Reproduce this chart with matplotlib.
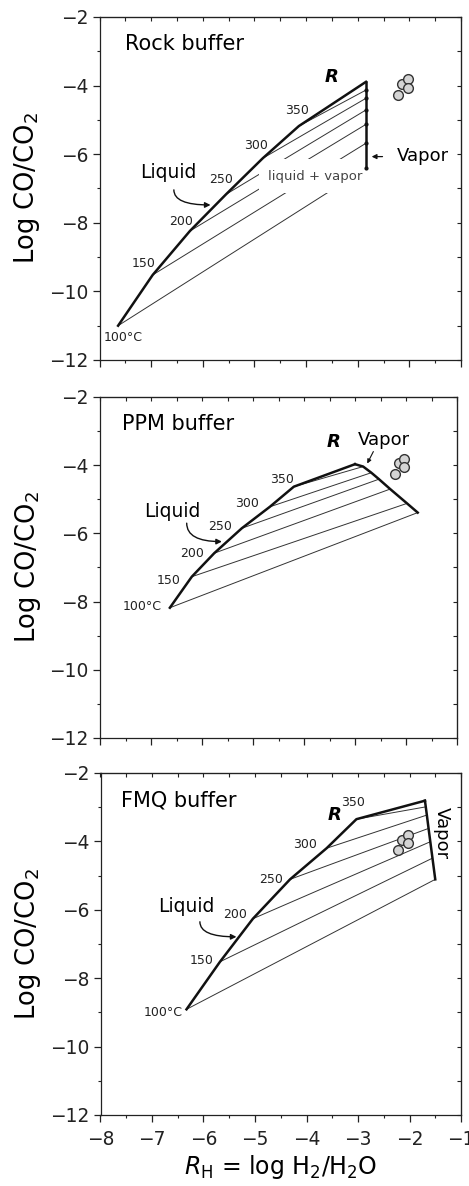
import matplotlib
matplotlib.use('Agg')
import matplotlib.pyplot as plt
from matplotlib.ticker import MultipleLocator
from matplotlib.patches import Rectangle

# temperatures (deg C) of the liquid points
temps = [100, 150, 200, 250, 300, 350]

# Rock buffer
rock_liq_x = [-7.64, -6.97, -6.25, -5.55, -4.84, -4.14]
rock_liq_y = [-11.0, -9.52, -8.24, -7.17, -6.12, -5.18]
rock_R = (-2.84, -3.89)
rock_vap_x = [-2.84, -2.84, -2.84, -2.84, -2.84, -2.84]
rock_vap_y = [-6.41, -5.68, -5.13, -4.71, -4.37, -4.13]

# PPM buffer
ppm_liq_x = [-6.63, -6.20, -5.76, -5.22, -4.67, -4.20]
ppm_liq_y = [-8.18, -7.27, -6.58, -5.85, -5.22, -4.63]
ppm_R = (-3.00, -3.97)
ppm_vap_x = [-1.77, -1.98, -2.31, -2.53, -2.68, -2.84]
ppm_vap_y = [-5.39, -5.12, -4.70, -4.41, -4.22, -4.04]

# FMQ buffer
fmq_liq_x = [-6.33, -5.68, -5.04, -4.32, -3.61, -3.03]
fmq_liq_y = [-8.91, -7.52, -6.26, -5.11, -4.20, -3.35]
fmq_R = (-1.70, -2.81)
fmq_vap_x = [-1.50, -1.554, -1.596, -1.63, -1.663, -1.684]
fmq_vap_y = [-5.11, -4.49, -4.01, -3.62, -3.23, -2.99]

# measured samples (same in every panel)
obs_x = [-2.22, -2.14, -2.03, -2.03]
obs_y = [-4.26, -3.95, -3.82, -4.06]

TICK_FS = 13.4
SMALL_FS = 9


def setup_axes(ax, xlabels=False):
  ax.set_xlim(-8, -1)
  ax.set_ylim(-12, -2)
  ax.xaxis.set_major_locator(MultipleLocator(1))
  ax.xaxis.set_minor_locator(MultipleLocator(0.5))
  ax.yaxis.set_major_locator(MultipleLocator(2))
  ax.yaxis.set_minor_locator(MultipleLocator(1))
  ax.tick_params(which='major', direction='out', length=5, width=0.9,
                 labelsize=TICK_FS, pad=3, colors='#222')
  ax.tick_params(which='minor', direction='out', length=2.5, width=0.8,
                 colors='#222')
  ax.tick_params(axis='x', pad=6, labelbottom=xlabels)
  for s in ax.spines.values():
    s.set_linewidth(0.9)
    s.set_color('#222')
  # inward ticks on top and right
  top = ax.secondary_xaxis('top')
  top.xaxis.set_major_locator(MultipleLocator(0.5))
  top.tick_params(direction='in', length=3, width=0.8, labeltop=False,
                  colors='#222')
  right = ax.secondary_yaxis('right')
  right.yaxis.set_major_locator(MultipleLocator(1))
  right.tick_params(direction='in', length=3, width=0.8, labelright=False,
                    colors='#222')
  ax.set_ylabel('Log CO/CO$_2$', fontsize=18.5, labelpad=5)


def draw_panel(ax, liq_x, liq_y, R, vap_x, vap_y):
  # tie lines
  for lx, ly, vx, vy in zip(liq_x, liq_y, vap_x, vap_y):
    ax.plot([lx, vx], [ly, vy], color='#333', lw=0.7, zorder=1.5)
  # liquid boundary up to R
  ax.plot(list(liq_x) + [R[0]], list(liq_y) + [R[1]], color='#111', lw=1.8,
          zorder=3)
  # vapor boundary from R down
  ax.plot([R[0]] + list(vap_x[::-1]), [R[1]] + list(vap_y[::-1]),
          color='#111', lw=1.8, zorder=3)
  ax.plot(obs_x, obs_y, 'o', ms=7, mfc='#d4d4d4', mec='#333', mew=1,
          zorder=4)


def temp_labels(ax, pos):
  # one position per temperature; None skips the label
  for t, p in zip(temps, pos):
    if p is None:
      continue
    lab = '100°C' if t == 100 else str(t)
    ax.text(p[0], p[1], lab, fontsize=SMALL_FS, ha='center', va='center',
            color='#222', zorder=5)


def liquid_arrow(ax, txt, start, end):
  ax.text(txt[0], txt[1], 'Liquid', fontsize=13.5, ha='center',
          va='center', zorder=5)
  ax.annotate('', xy=end, xytext=start,
              arrowprops=dict(arrowstyle='-|>', lw=1, color='#111',
                              connectionstyle='angle3,angleA=90,angleB=0',
                              shrinkA=0, shrinkB=0, mutation_scale=8))


fig = plt.figure(figsize=(4.69, 11.86), dpi=100)
ax1 = fig.add_axes([99.5 / 469, 1 - 360 / 1186, 361.5 / 469, 343 / 1186])
ax2 = fig.add_axes([100 / 469, 1 - 738 / 1186, 357 / 469, 341 / 1186])
ax3 = fig.add_axes([100.5 / 469, 1 - 1115 / 1186, 360.5 / 469, 342 / 1186])

# ---- Rock buffer
setup_axes(ax1)
draw_panel(ax1, rock_liq_x, rock_liq_y, rock_R, rock_vap_x, rock_vap_y)
ax1.plot(rock_vap_x, rock_vap_y, 'o', ms=2, color='#111', zorder=3)
# blank band behind the "liquid + vapor" label (breaks the tie lines)
ax1.add_patch(Rectangle((-4.92, -7.13), 2.06, 0.99, facecolor='white',
                        edgecolor='none', zorder=2))
ax1.text(-3.82, -6.66, 'liquid + vapor', fontsize=9.5, ha='center',
         va='center', color='#444', zorder=5)
ax1.text(-7.5, -2.8, 'Rock buffer', fontsize=15, ha='left', va='center')
ax1.text(-3.51, -3.76, 'R', fontsize=13, style='italic', weight='bold',
         ha='center', va='center')
ax1.text(-1.73, -6.05, 'Vapor', fontsize=13, ha='center', va='center')
ax1.annotate('', xy=(-2.73, -6.07), xytext=(-2.52, -6.07),
             arrowprops=dict(arrowstyle='-|>', lw=0.9, color='#111',
                             shrinkA=0, shrinkB=0, mutation_scale=7))
temp_labels(ax1, [(-7.55, -11.34), (-7.14, -9.2), (-6.42, -7.95),
                  (-5.65, -6.73), (-4.96, -5.76), (-4.18, -4.73)])
liquid_arrow(ax1, (-6.66, -6.54), (-6.56, -7.04), (-5.85, -7.48))

# ---- PPM buffer
setup_axes(ax2)
draw_panel(ax2, ppm_liq_x, ppm_liq_y, ppm_R, ppm_vap_x, ppm_vap_y)
ax2.text(-7.57, -2.78, 'PPM buffer', fontsize=15, ha='left', va='center')
ax2.text(-3.43, -3.31, 'R', fontsize=13, style='italic', weight='bold',
         ha='center', va='center')
ax2.text(-2.44, -3.26, 'Vapor', fontsize=13, ha='center', va='center')
ax2.annotate('', xy=(-2.76, -3.95), xytext=(-2.64, -3.60),
             arrowprops=dict(arrowstyle='-|>', lw=0.8, color='#111',
                             shrinkA=0, shrinkB=0, mutation_scale=6))
temp_labels(ax2, [(-7.18, -8.15), (-6.66, -7.37), (-6.20, -6.58),
                  (-5.65, -5.80), (-5.12, -5.12), (-4.44, -4.41)])
liquid_arrow(ax2, (-6.59, -5.36), (-6.30, -5.70), (-5.61, -6.24))

# ---- FMQ buffer
setup_axes(ax3, xlabels=True)
draw_panel(ax3, fmq_liq_x, fmq_liq_y, fmq_R, fmq_vap_x, fmq_vap_y)
ax3.text(-7.6, -2.81, 'FMQ buffer', fontsize=15, ha='left', va='center')
ax3.text(-3.45, -3.23, 'R', fontsize=13, style='italic', weight='bold',
         ha='center', va='center')
ax3.text(-1.37, -3.76, 'Vapor', fontsize=13, ha='center', va='center',
         rotation=-90)
temp_labels(ax3, [(-6.79, -9.01), (-6.04, -7.47), (-5.39, -6.13),
                  (-4.68, -5.11), (-4.03, -4.08), (-3.09, -2.87)])
liquid_arrow(ax3, (-6.33, -5.91), (-6.07, -6.35), (-5.36, -6.79))
ax3.set_xlabel('$R_{\\mathrm{H}}$ = log H$_2$/H$_2$O', fontsize=17,
               labelpad=3)

fig.savefig('out.png', dpi=100)
